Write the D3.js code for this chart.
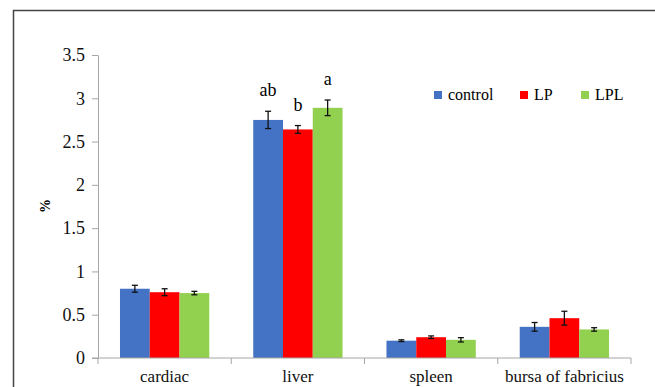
<!DOCTYPE html>
<html lang="en">
	<head>
		<meta charset="utf-8">
		<title>organ index</title>
		<script src="https://d3js.org/d3.v7.min.js"></script>
		<style type="text/css">
			body { margin: 0; background: #fff; font-family: "Liberation Serif", serif; }
		</style>
	</head>

	<body>
		<script type="text/javascript">
			// window setup
			var w = 655
			var h = 387
			var font = "Liberation Serif, DejaVu Serif, serif"

			// data
			var organs = ["cardiac", "liver", "spleen", "bursa of fabricius"]
			var groups = ["control", "LP", "LPL"]
			var colors = ["#4472C4", "#FF0000", "#92D050"]
			var control = [0.80, 2.75, 0.20, 0.36]
			var LP = [0.76, 2.64, 0.24, 0.46]
			var LPL = [0.75, 2.89, 0.21, 0.33]
			var controlErr = [0.04, 0.10, 0.01, 0.05]
			var LPErr = [0.04, 0.045, 0.015, 0.08]
			var LPLErr = [0.02, 0.09, 0.025, 0.02]
			var yTicks = [0, 0.5, 1, 1.5, 2, 2.5, 3, 3.5]
			var liverLetters = ["ab", "b", "a"]

			var values = [control, LP, LPL]
			var errs = [controlErr, LPErr, LPLErr]

			var svg = d3.select("body")
						.append("svg")
						.attr("width", w)
						.attr("height", h)
						.style("display", "block")
						.attr("font-family", font)

			// outer frame
			svg.append("rect")
				.attr("x", 13.5).attr("y", 10.5)
				.attr("width", 700).attr("height", 400)
				.style("fill", "none")
				.style("stroke", "#444")
				.style("stroke-width", 1.5)

			var x0 = d3.scaleBand().domain(organs).range([98, 631]).paddingInner(0.33).paddingOuter(0.165)
			var x1 = d3.scaleBand().domain(groups).range([0, x0.bandwidth()])
			var y = d3.scaleLinear().domain([0, 3.5]).range([358, 55])

			// bars
			var rows = []
			organs.forEach(function(o, i) {
				groups.forEach(function(g, j) {
					rows.push({ organ: o, group: g, j: j, v: values[j][i], e: errs[j][i] })
				})
			})

			svg.selectAll("rect.bar")
				.data(rows)
				.enter()
				.append("rect")
				.attr("class", "bar")
				.attr("x", function(d) { return x0(d.organ) + x1(d.group) })
				.attr("y", function(d) { return y(d.v) })
				.attr("width", x1.bandwidth())
				.attr("height", function(d) { return y(0) - y(d.v) })
				.style("fill", function(d) { return colors[d.j] })

			// error bars
			var eb = svg.selectAll("g.err")
				.data(rows)
				.enter()
				.append("g")
				.attr("class", "err")
				.attr("transform", function(d) { return "translate(" + (x0(d.organ) + x1(d.group) + x1.bandwidth() / 2) + ",0)" })
				.style("stroke", "#111")
				.style("stroke-width", 1.3)
			eb.append("line")
				.attr("y1", function(d) { return y(d.v + d.e) })
				.attr("y2", function(d) { return y(d.v - d.e) })
			eb.append("line").attr("x1", -3).attr("x2", 3)
				.attr("y1", function(d) { return y(d.v + d.e) })
				.attr("y2", function(d) { return y(d.v + d.e) })
			eb.append("line").attr("x1", -3).attr("x2", 3)
				.attr("y1", function(d) { return y(d.v - d.e) })
				.attr("y2", function(d) { return y(d.v - d.e) })

			// letters above liver bars
			svg.selectAll("text.sig")
				.data(groups)
				.enter()
				.append("text")
				.attr("class", "sig")
				.attr("x", function(g) { return x0("liver") + x1(g) + x1.bandwidth() / 2 })
				.attr("y", function(g, j) { return y(values[j][1] + errs[j][1]) - 15 })
				.attr("text-anchor", "middle")
				.attr("font-family", font)
				.style("font-size", "18px")
				.text(function(g, j) { return liverLetters[j] })

			// y axis
			var yAxis = svg.append("g")
				.attr("transform", "translate(98,0)")
				.call(d3.axisLeft(y).tickValues(yTicks).tickSize(6).tickSizeOuter(0).tickFormat(d3.format("")))
			yAxis.attr("font-family", font)
			yAxis.selectAll("line, path").style("stroke", "#a6a6a6")
			yAxis.selectAll("text").attr("font-family", font).style("font-size", "18px").style("fill", "#111").attr("x", -13)

			// x axis
			var xAxis = svg.append("g")
				.attr("transform", "translate(0,358)")
			xAxis.append("line").attr("x1", 92).attr("x2", 631).style("stroke", "#a6a6a6")
			xAxis.selectAll("line.tk")
				.data([98].concat(organs.map(function(o) { return x0(o) + x0.bandwidth() + x0.step() * x0.paddingInner() / 2 })))
				.enter()
				.append("line")
				.attr("class", "tk")
				.attr("x1", function(d) { return d }).attr("x2", function(d) { return d })
				.attr("y1", 0).attr("y2", 6)
				.style("stroke", "#a6a6a6")
			xAxis.selectAll("text")
				.data(organs)
				.enter()
				.append("text")
				.attr("x", function(o) { return x0(o) + x0.bandwidth() / 2 })
				.attr("y", 24)
				.attr("text-anchor", "middle")
				.attr("font-family", font)
				.style("font-size", "17px")
				.style("fill", "#111")
				.text(function(o) { return o })

			// y label
			svg.append("text")
				.attr("transform", "translate(50,206) rotate(-90)")
				.attr("text-anchor", "middle")
				.attr("font-family", font)
				.style("font-size", "14px")
				.style("font-weight", "bold")
				.text("%")

			// legend
			var legX = [434, 520, 581]
			var leg = svg.selectAll("g.leg")
				.data(groups)
				.enter()
				.append("g")
				.attr("class", "leg")
				.attr("transform", function(g, j) { return "translate(" + legX[j] + ",91)" })
			leg.append("rect").attr("width", 8).attr("height", 8).style("fill", function(g, j) { return colors[j] })
			leg.append("text").attr("x", 14).attr("y", 8.5).attr("font-family", font).style("font-size", "16px").text(function(g) { return g })
		</script>
	</body>
</html>
